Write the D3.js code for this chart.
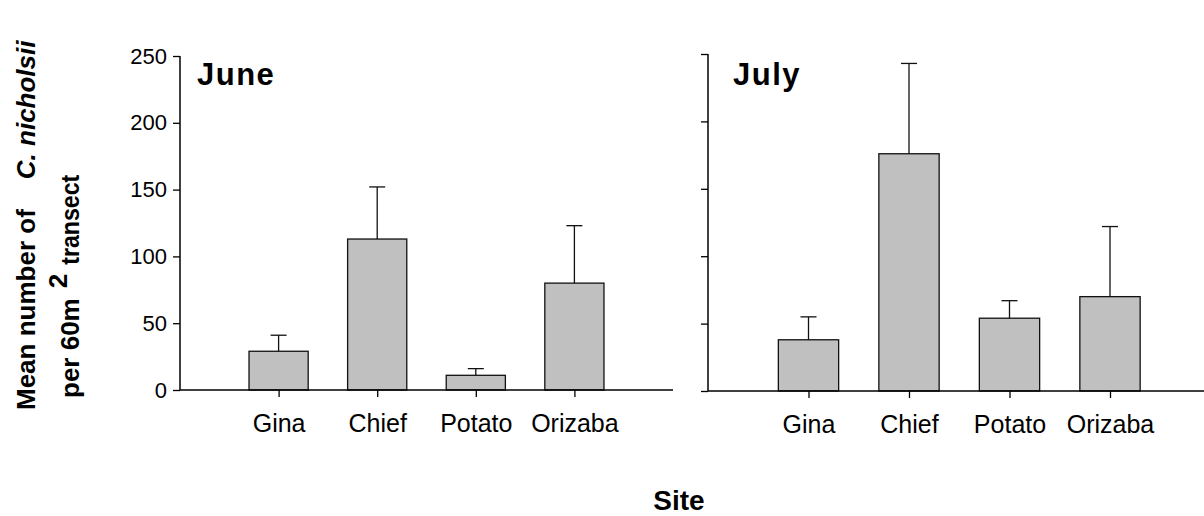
<!DOCTYPE html>
<html>
<head>
<meta charset="utf-8">
<script src="https://cdn.jsdelivr.net/npm/d3@7"></script>
<style>
  html, body { margin: 0; padding: 0; background: #fff; }
  svg { display: block; }
  text { font-family: "Liberation Sans", Arial, sans-serif; fill: #000; }
</style>
</head>
<body>
<svg id="chart" width="1204" height="516"></svg>
<script>
// ---- data ----
const sites = ["Gina", "Chief", "Potato", "Orizaba"];
const juneMean = [29, 113, 11, 80];
const juneErr = [12, 39, 5, 43];
const julyMean = [38, 176, 54, 70];
const julyErr = [17, 67, 13, 52];
const yTicks = [0, 50, 100, 150, 200, 250];
const panelTitles = ["June", "July"];

const svg = d3.select("#chart");

const panels = [
  { title: panelTitles[0], mean: juneMean, err: juneErr, x0: 180, x1: 673, yTop: 56, yBot: 390, labels: true },
  { title: panelTitles[1], mean: julyMean, err: julyErr, x0: 708, x1: 1210.5, yTop: 54, yBot: 391, labels: false }
];

panels.forEach(p => {
  const x = d3.scaleLinear().domain([0, sites.length + 1]).range([p.x0, p.x1]);
  const y = d3.scaleLinear().domain([0, 250]).range([p.yBot, p.yTop]);
  const step = x(1) - x(0);
  const bw = step * 0.6;
  const g = svg.append("g");

  // y axis
  const yAxis = d3.axisLeft(y).tickValues(yTicks).tickSize(7).tickPadding(6)
    .tickFormat(p.labels ? d3.format("d") : () => "");
  const ya = g.append("g").attr("transform", `translate(${p.x0},0)`).call(yAxis);
  ya.attr("font-size", null).attr("font-family", null);
  ya.select(".domain").attr("stroke", "#000").attr("stroke-width", 1.5).attr("d", `M0,${p.yTop}V${p.yBot}`);
  ya.selectAll(".tick line").attr("stroke", "#000").attr("stroke-width", 1.3);
  ya.selectAll(".tick text").style("font-size", "22px").attr("fill", "#000");

  // bars
  const data = sites.map((s, i) => ({ s, i, m: p.mean[i], e: p.err[i] }));
  g.selectAll("rect.bar").data(data).join("rect")
    .attr("class", "bar")
    .attr("x", d => x(d.i + 1) - bw / 2)
    .attr("width", bw)
    .attr("y", d => y(d.m))
    .attr("height", d => y(0) - y(d.m))
    .attr("fill", "#c0c0c0")
    .attr("stroke", "#111")
    .attr("stroke-width", 1.3);

  // error bars (upper)
  g.selectAll("line.err").data(data).join("line")
    .attr("class", "err")
    .attr("x1", d => x(d.i + 1)).attr("x2", d => x(d.i + 1))
    .attr("y1", d => y(d.m)).attr("y2", d => y(d.m + d.e))
    .attr("stroke", "#111").attr("stroke-width", 1.3);
  g.selectAll("line.cap").data(data).join("line")
    .attr("class", "cap")
    .attr("x1", d => x(d.i + 1) - 8).attr("x2", d => x(d.i + 1) + 8)
    .attr("y1", d => y(d.m + d.e)).attr("y2", d => y(d.m + d.e))
    .attr("stroke", "#111").attr("stroke-width", 1.3);

  // x axis
  const xAxis = d3.axisBottom(x).tickValues(d3.range(1, sites.length + 1)).tickSize(7).tickPadding(0)
    .tickFormat(d => sites[d - 1]);
  const xa = g.append("g").attr("transform", `translate(0,${p.yBot})`).call(xAxis);
  xa.attr("font-size", null).attr("font-family", null);
  xa.select(".domain").attr("stroke", "#000").attr("stroke-width", 1.5).attr("d", `M${p.x0},0H${p.x1}`);
  xa.selectAll(".tick line").attr("stroke", "#000").attr("stroke-width", 1.3);
  xa.selectAll(".tick text").style("font-size", "25px").attr("dy", null).attr("y", 42).attr("fill", "#000");

  // panel title
  g.append("text").attr("x", p.x0 + (p.labels ? 17 : 25)).attr("y", 85)
    .style("font-size", "31px").attr("font-weight", "bold").attr("letter-spacing", 1.5)
    .text(p.title);
});

// x axis title
svg.append("text").attr("x", 679).attr("y", 510).attr("text-anchor", "middle")
  .style("font-size", "28px").attr("font-weight", "bold").text("Site");

// y axis title
const yt1 = svg.append("text").attr("transform", "translate(35,410) rotate(-90)")
  .style("font-size", "26px").attr("font-weight", "bold");
yt1.append("tspan").text("Mean number of");
yt1.append("tspan").attr("dx", 30).attr("font-style", "italic").text("C. nicholsii");

const yt2 = svg.append("text").attr("transform", "translate(79,398) rotate(-90)")
  .style("font-size", "26px").attr("font-weight", "bold");
yt2.append("tspan").text("per 60m");
yt2.append("tspan").attr("dx", 10).attr("dy", -12).text("2");
yt2.append("tspan").attr("dx", 9).attr("dy", 12).attr("textLength", 90).attr("lengthAdjust", "spacingAndGlyphs").text("transect");
</script>
</body>
</html>
